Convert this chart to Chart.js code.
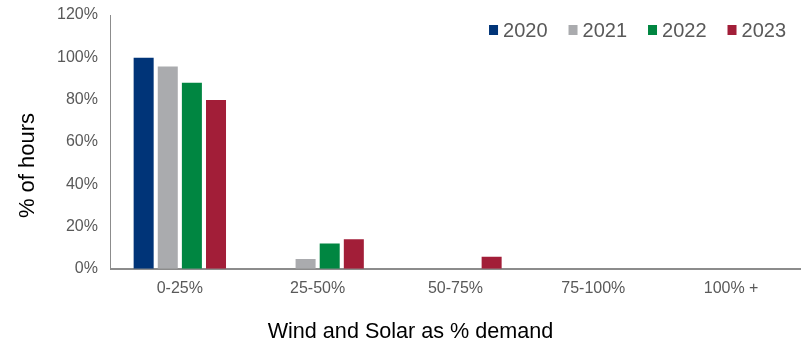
<!DOCTYPE html>
<html>
<head>
<meta charset="utf-8">
<script src="https://cdn.jsdelivr.net/npm/chart.js@4"></script>
<style>
    html, body { margin: 0; padding: 0; background: #fff; }
    #wrap { width: 803px; height: 341px; }
</style>
</head>
<body>
<div id="wrap"><canvas id="chart" width="803" height="341"></canvas></div>
<script>
// Data
const categories = ['0-25%', '25-50%', '50-75%', '75-100%', '100% +'];
const years = ['2020', '2021', '2022', '2023'];
const share2020 = [99.8, 0, 0, 0, 0];
const share2021 = [95.6, 4.6, 0, 0, 0];
const share2022 = [88.0, 12.0, 0, 0, 0];
const share2023 = [79.8, 14.0, 5.7, 0, 0];
const yTicks = [0, 20, 40, 60, 80, 100, 120];

const colors = ['#003478', '#AAABAE', '#008641', '#A21E38'];
const seriesValues = [share2020, share2021, share2022, share2023];

const FONT = '"Liberation Sans", Arial, sans-serif';
const xTitle = 'Wind and Solar as % demand';
const yTitle = '% of hours';

// Legend in the top right of the plot area, axis titles centred on the figure
const extras = {
    id: 'extras',
    afterDraw(chart) {
        const ctx = chart.ctx;
        const area = chart.chartArea;
        ctx.save();

        // legend
        ctx.font = '20px ' + FONT;
        ctx.textBaseline = 'middle';
        const y = area.top + 15;
        let x = area.right - 14;
        chart.data.datasets.slice().reverse().forEach(ds => {
            const w = ctx.measureText(ds.label).width;
            x -= w;
            ctx.fillStyle = '#595959';
            ctx.fillText(ds.label, x, y + 1);
            x -= 14;
            ctx.fillStyle = ds.backgroundColor;
            ctx.fillRect(x, y - 5, 9, 10);
            x -= 21;
        });

        // axis titles
        ctx.fillStyle = '#000';
        ctx.font = '21.6px ' + FONT;
        ctx.textAlign = 'center';
        ctx.textBaseline = 'alphabetic';
        ctx.fillText(xTitle, chart.width / 2 + 9, chart.height - 3);

        ctx.translate(34, chart.height / 2 - 5);
        ctx.rotate(-Math.PI / 2);
        ctx.font = '22px ' + FONT;
        ctx.fillText(yTitle, 0, 0);
        ctx.restore();
    }
};

const ctx = document.getElementById('chart').getContext('2d');
new Chart(ctx, {
    type: 'bar',
    data: {
        labels: categories,
        datasets: years.map((yr, i) => ({
            label: yr,
            data: seriesValues[i],
            backgroundColor: colors[i],
            borderWidth: 0,
            categoryPercentage: 0.7,
            barPercentage: 0.83
        }))
    },
    options: {
        responsive: false,
        animation: false,
        layout: {
            padding: { top: 15, right: 3, left: 44, bottom: 33 }
        },
        plugins: {
            legend: { display: false },
            tooltip: { enabled: false }
        },
        scales: {
            x: {
                grid: { display: false, drawTicks: false },
                border: { display: true, color: '#8C8C8C', width: 2 },
                ticks: {
                    color: '#595959',
                    font: { family: FONT, size: 16 },
                    padding: 10
                }
            },
            y: {
                min: 0,
                max: 120,
                afterBuildTicks(axis) {
                    axis.ticks = yTicks.map(v => ({ value: v }));
                },
                afterFit(axis) {
                    axis.paddingTop = 0;
                    axis.paddingBottom = 0;
                },
                grid: { display: false, drawTicks: false },
                border: { display: true, color: '#8C8C8C', width: 1 },
                ticks: {
                    color: '#595959',
                    font: { family: FONT, size: 16 },
                    padding: 13,
                    callback: v => v + '%'
                }
            }
        }
    },
    plugins: [extras]
});
</script>
</body>
</html>
